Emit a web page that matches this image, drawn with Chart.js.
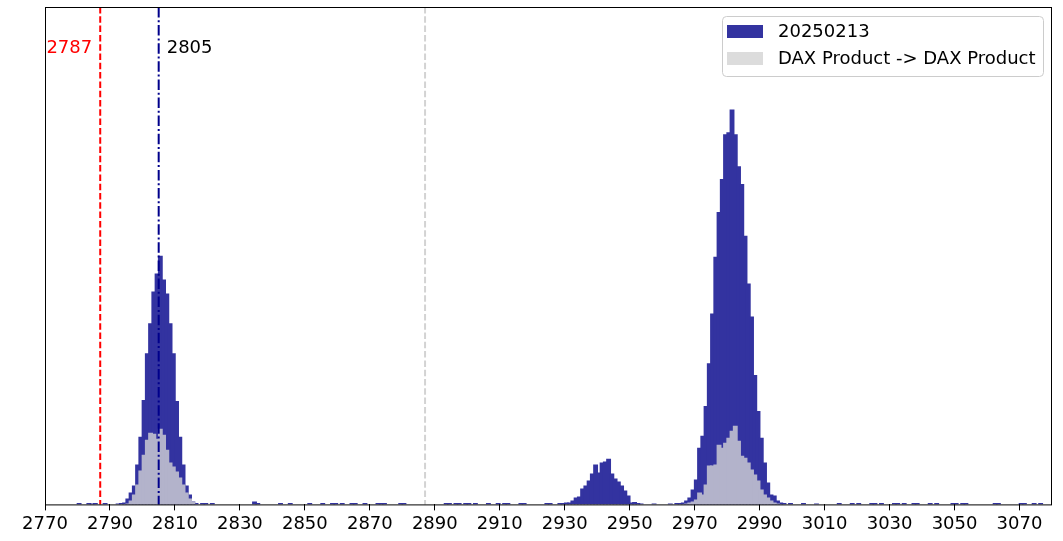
<!DOCTYPE html>
<html>
<head>
<meta charset="utf-8">
<script src="https://cdn.jsdelivr.net/npm/chart.js@4.4.1/dist/chart.umd.min.js"></script>
<style>
  body { margin: 0; background: #fff; }
  #wrap { width: 1063px; height: 541px; }
</style>
</head>
<body>
<div id="wrap"><canvas id="hist" width="1063" height="541"></canvas></div>
<script>
// bins are 1 point wide, value = left edge of the bin
const dayBins = [2780, 2783, 2784, 2785, 2788, 2792, 2793, 2794, 2795, 2796, 2797, 2798, 2799,
  2800, 2801, 2802, 2803, 2804, 2805, 2806, 2807, 2808, 2809, 2810, 2811, 2812, 2813, 2814, 2815,
  2816, 2818, 2819, 2821, 2834, 2835, 2842, 2845, 2851, 2855, 2858, 2859, 2861, 2864, 2865, 2868,
  2872, 2873, 2874, 2879, 2880, 2893, 2894, 2896, 2897, 2899, 2900, 2902, 2906, 2909, 2911, 2912,
  2916, 2917, 2924, 2925, 2928, 2929, 2930, 2931, 2932, 2933, 2934, 2935, 2936, 2937, 2938, 2939,
  2940, 2941, 2942, 2943, 2944, 2945, 2946, 2947, 2948, 2949, 2950, 2951, 2952, 2953, 2957, 2962,
  2964, 2965, 2966, 2967, 2968, 2969, 2970, 2971, 2972, 2973, 2974, 2975, 2976, 2977, 2978, 2979,
  2980, 2981, 2982, 2983, 2984, 2985, 2986, 2987, 2988, 2989, 2990, 2991, 2992, 2993, 2994, 2995,
  2996, 2997, 2999, 3003, 3007, 3014, 3018, 3020, 3024, 3025, 3027, 3031, 3032, 3034, 3037, 3038,
  3042, 3044, 3049, 3050, 3052, 3053, 3062, 3063, 3070, 3071, 3074, 3076];
const dayCounts = [1.5, 1.5, 1, 1.5, 1.5, 1, 1.5, 2, 6, 12, 19, 40, 68,
  105, 152, 182, 214, 232, 250, 226, 212, 182, 152, 104, 68, 40, 19, 10, 3,
  1.5, 1.5, 1.5, 1.5, 3, 1.5, 1.5, 1.5, 1.5, 1.5, 1.5, 1.5, 1.5, 1.5, 1.5, 1.5,
  1.5, 1.5, 1.5, 1.5, 1.5, 1.5, 1.5, 1.5, 1.5, 1.5, 1.5, 1.5, 1.5, 1.5, 1.5, 1.5,
  1.5, 1.5, 1.5, 1.5, 1.5, 1.5, 2, 2, 4, 7, 8, 16, 19, 24, 31, 40,
  32, 42, 43, 46, 31, 26, 23, 19, 14, 9, 2, 2.5, 1.5, 1, 1, 1,
  1.5, 1.5, 2, 4, 7, 15, 25, 57, 69, 99, 142, 192, 249, 294, 327, 372,
  374, 397, 372, 340, 322, 270, 222, 189, 130, 94, 67, 42, 22, 10, 9, 4,
  2, 1.5, 1.5, 1.5, 1, 1.5, 1.5, 1.5, 1.5, 1.5, 1.5, 1.5, 1.5, 1.5, 1.5, 1.5,
  1.5, 1.5, 1.5, 1.5, 1.5, 1.5, 1.5, 1.5, 1.5, 1.5, 1.5, 1.5];

const daxBins = [2795, 2796, 2797, 2798, 2799, 2800, 2801, 2802, 2803, 2804, 2805, 2806, 2807,
  2808, 2809, 2810, 2811, 2812, 2813, 2814, 2815,
  2967, 2968, 2969, 2970, 2971, 2972, 2973, 2974, 2975, 2976, 2977, 2978, 2979, 2980, 2981,
  2982, 2983, 2984, 2985, 2986, 2987, 2988, 2989, 2990, 2991, 2992, 2993, 2994, 2995];
const daxCounts = [1, 4, 10, 20, 34, 50, 65, 72, 71, 66, 76, 70, 55,
  42, 38, 33, 27, 20, 12, 6, 3,
  1, 2, 3, 5, 12, 10, 20, 39, 39, 40, 60, 57, 62, 67, 74,
  79, 64, 49, 47, 42, 35, 30, 24, 15, 10, 7, 4, 2, 1];

const seriesNames = ['20250213', 'DAX Product -> DAX Product'];
const tickValues = [2770, 2790, 2810, 2830, 2850, 2870, 2890, 2910, 2930, 2950, 2970, 2990, 3010, 3030, 3050, 3070];
const markLines = [2787, 2805, 2887];

const BLUE = 'rgb(51,51,160)';
const GRAY = 'rgb(179,179,203)';
const FONT = '"DejaVu Sans", sans-serif';

function toPoints(bins, counts) {
  return bins.map((b, i) => ({ x: b + 0.5, y: counts[i] }));
}

// vertical marker lines, their labels, frame and the legend
const overlay = {
  id: 'overlay',
  afterDatasetsDraw(chart) {
    const ctx = chart.ctx;
    const a = chart.chartArea;
    const xs = chart.scales.x;
    const styles = [
      { color: 'rgb(255,0,0)', dash: [6.5, 2.8], text: 'rgb(255,0,0)', side: -1 },
      { color: 'rgb(0,0,139)', dash: [10.5, 2.8, 2, 2.8], text: '#000', side: 1 },
      { color: 'rgb(211,211,211)', dash: [6.5, 2.8], text: null, side: 0 }
    ];
    ctx.save();
    markLines.forEach((v, i) => {
      const st = styles[i];
      const px = xs.getPixelForValue(v);
      ctx.beginPath();
      ctx.setLineDash(st.dash);
      ctx.strokeStyle = st.color;
      ctx.lineWidth = 2;
      ctx.moveTo(px, a.top);
      ctx.lineTo(px, a.bottom);
      ctx.stroke();
      if (st.text) {
        ctx.setLineDash([]);
        ctx.font = '18px ' + FONT;
        ctx.fillStyle = st.text;
        ctx.textBaseline = 'middle';
        ctx.textAlign = st.side < 0 ? 'right' : 'left';
        ctx.fillText(String(v), px + st.side * 8, a.top + 41);
      }
    });

    // axes frame
    ctx.setLineDash([]);
    ctx.strokeStyle = '#000';
    ctx.lineWidth = 1;
    ctx.strokeRect(a.left + 0.5, a.top + 0.5, a.right - a.left - 1, a.bottom - a.top);

    // legend box
    const lx = 722, ly = 16, lw = 321, lh = 60;
    ctx.beginPath();
    ctx.roundRect(lx + 0.5, ly + 0.5, lw, lh, 4);
    ctx.fillStyle = 'rgba(255,255,255,0.8)';
    ctx.fill();
    ctx.strokeStyle = 'rgb(204,204,204)';
    ctx.stroke();
    const patches = [BLUE, 'rgb(220,220,220)'];
    seriesNames.forEach((name, i) => {
      const y = ly + 9 + i * 27;
      ctx.fillStyle = patches[i];
      ctx.fillRect(lx + 5, y, 36, 13);
      ctx.fillStyle = '#000';
      ctx.font = '18px ' + FONT;
      ctx.textAlign = 'left';
      ctx.textBaseline = 'middle';
      ctx.fillText(name, lx + 56, y + 7);
    });
    ctx.restore();
  }
};

new Chart(document.getElementById('hist'), {
  type: 'bar',
  data: {
    datasets: [
      {
        label: seriesNames[0],
        data: toPoints(dayBins, dayCounts),
        backgroundColor: BLUE,
        order: 2
      },
      {
        label: seriesNames[1],
        data: toPoints(daxBins, daxCounts),
        backgroundColor: GRAY,
        order: 1
      }
    ]
  },
  options: {
    responsive: false,
    animation: false,
    layout: { padding: { left: 45, right: 11, top: 7, bottom: 3 } },
    datasets: {
      bar: { grouped: false, barPercentage: 1.5, categoryPercentage: 1, borderWidth: 0, inflateAmount: 0 }
    },
    plugins: {
      legend: { display: false },
      tooltip: { enabled: false }
    },
    scales: {
      x: {
        type: 'linear',
        offset: false,
        min: 2770,
        max: 3080,
        afterBuildTicks: (scale) => { scale.ticks = tickValues.map(v => ({ value: v })); },
        ticks: {
          color: '#000',
          font: { family: FONT, size: 18 },
          padding: 3,
          maxRotation: 0,
          autoSkip: false,
          callback: (v) => String(v)
        },
        grid: { drawOnChartArea: false, drawTicks: true, tickLength: 6, color: '#000', offset: false },
        border: { display: false }
      },
      y: {
        min: 0,
        max: 500,
        display: false
      }
    }
  },
  plugins: [overlay]
});
</script>
</body>
</html>
